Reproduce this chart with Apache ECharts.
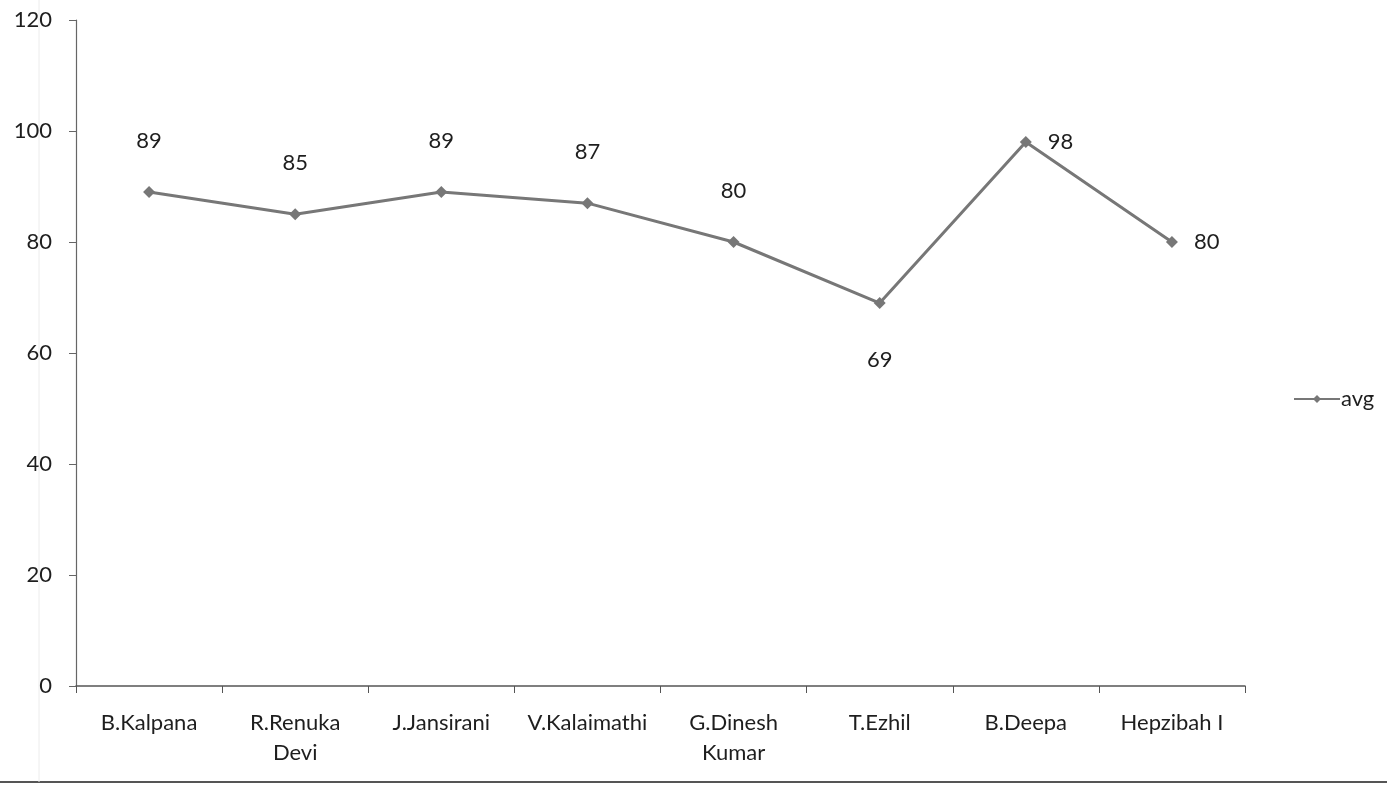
<!DOCTYPE html>
<html><head><meta charset="utf-8">
<script src="https://cdn.jsdelivr.net/npm/echarts@6/dist/echarts.min.js"></script>
<style>html,body{margin:0;padding:0;background:#fff}#c{width:1387px;height:787px}</style>
</head><body><div id="c"></div>
<script>
const categories = ['B.Kalpana', 'R.Renuka\nDevi', 'J.Jansirani', 'V.Kalaimathi', 'G.Dinesh\nKumar', 'T.Ezhil', 'B.Deepa', 'Hepzibah I'];
const avgValues = [89, 85, 89, 87, 80, 69, 98, 80];
const yTicks = [0, 20, 40, 60, 80, 100, 120];
const labelPlacement = ['top', 'top', 'top', 'top', 'top', 'bottom', 'right', 'right'];

const fontFam = 'Lato, "Open Sans", sans-serif';
const txtColor = '#1e1e1e';
const chart = echarts.init(document.getElementById('c'));
const data = avgValues.map((v, i) => {
  const p = labelPlacement[i];
  let label;
  if (p === 'top') label = { position: 'top', distance: 34 };
  else if (p === 'bottom') label = { position: 'bottom', distance: 40 };
  else label = { position: 'right', distance: 16 };
  return { value: v, label };
});
chart.setOption({
  animation: false,
  backgroundColor: '#fff',
  grid: { left: 76, right: 142, top: 20, bottom: 101, containLabel: false },
  legend: {
    left: 1288, top: 383, orient: 'vertical',
    itemWidth: 46, itemHeight: 10, itemGap: 6,
    textStyle: { fontFamily: fontFam, fontSize: 22, color: txtColor, padding: [0, 0, 0, -4] },
    data: ['avg']
  },
  xAxis: {
    type: 'category', data: categories, boundaryGap: true,
    axisLine: { lineStyle: { color: '#555', width: 1.5 } },
    axisTick: { show: true, length: 7, lineStyle: { color: '#555' } },
    axisLabel: { fontFamily: fontFam, fontSize: 22, color: txtColor, margin: 22, lineHeight: 30, interval: 0 }
  },
  yAxis: {
    type: 'value', min: 0, max: 120, interval: 20,
    axisLine: { show: true, lineStyle: { color: '#666', width: 1.2 } },
    axisTick: { show: true, length: 7, lineStyle: { color: '#666' } },
    splitLine: { show: false },
    axisLabel: { fontFamily: fontFam, fontSize: 22, color: txtColor, margin: 24,
      formatter: v => yTicks.includes(v) ? String(v) : '' }
  },
  series: [{
    name: 'avg', type: 'line', data,
    symbol: 'diamond', symbolSize: 12,
    lineStyle: { color: '#777', width: 3 },
    itemStyle: { color: '#777' },
    label: { show: true, fontFamily: fontFam, fontSize: 22, color: txtColor }
  }],
  graphic: [
    { type: 'line', shape: { x1: 0, y1: 782, x2: 1387, y2: 782 }, style: { stroke: '#555', lineWidth: 2 } },
    { type: 'line', shape: { x1: 39, y1: 0, x2: 39, y2: 782 }, style: { stroke: '#ececec', lineWidth: 1 } }
  ]
});
</script></body></html>
